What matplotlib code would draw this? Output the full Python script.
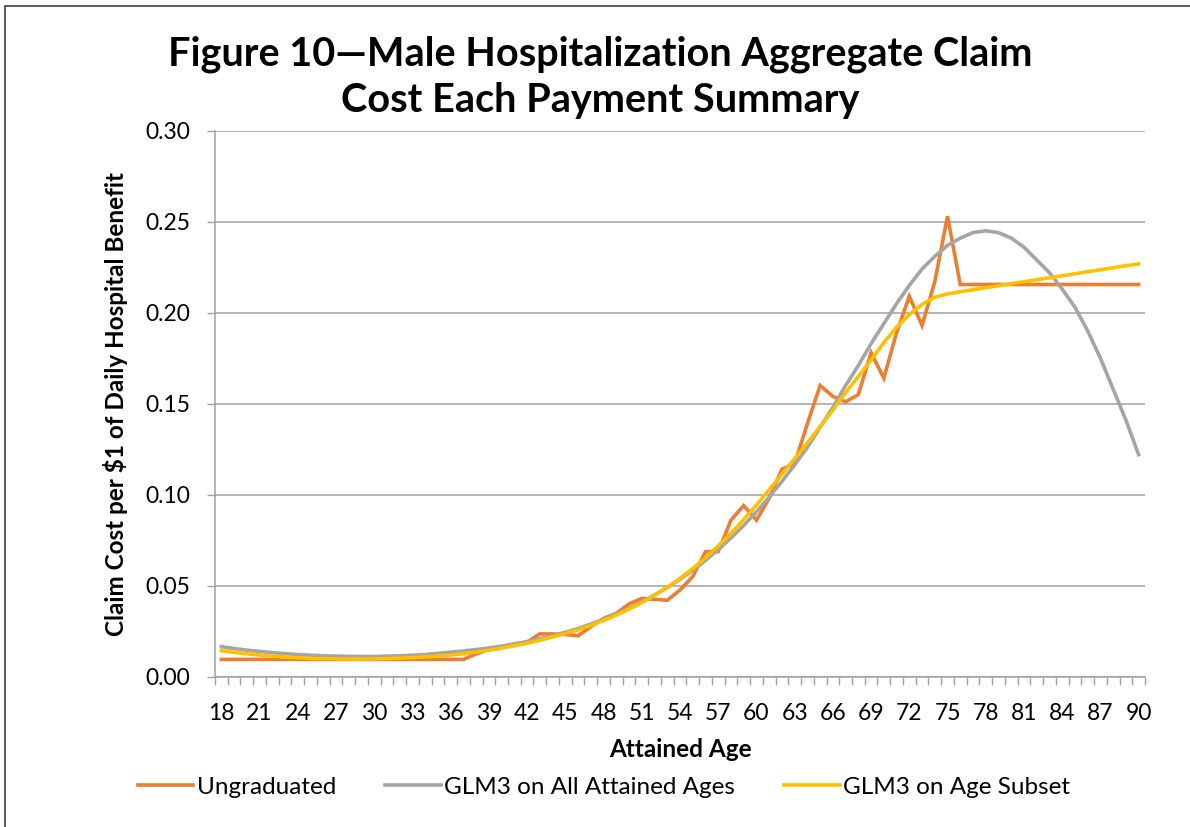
import matplotlib
matplotlib.use("Agg")
import matplotlib.pyplot as plt
from matplotlib.patches import Rectangle

plt.rcParams['font.family'] = ['Lato', 'DejaVu Sans']

ages = list(range(18, 91))

ungraduated = [0.0095, 0.0095, 0.0095, 0.0095, 0.0095, 0.0095, 0.0095, 0.0095, 0.0095, 0.0095,
               0.0095, 0.0095, 0.0095, 0.0095, 0.0095, 0.0095, 0.0095, 0.0095, 0.0095, 0.0095,
               0.0125, 0.0150, 0.0165, 0.0180, 0.0190, 0.0235, 0.0235, 0.0232, 0.0225, 0.0275,
               0.0320, 0.0348, 0.0400, 0.0430, 0.0425, 0.0420, 0.0476, 0.0550, 0.0687, 0.0687,
               0.0860, 0.0940, 0.0860, 0.0980, 0.1140, 0.1170, 0.1390, 0.1600, 0.1540, 0.1510,
               0.1550, 0.1780, 0.1640, 0.1890, 0.2090, 0.1930, 0.2170, 0.2530, 0.2155, 0.2155,
               0.2155, 0.2155, 0.2155, 0.2155, 0.2155, 0.2155, 0.2155, 0.2155, 0.2155, 0.2155,
               0.2155, 0.2155, 0.2155]

glm_all = [0.0165, 0.0155, 0.0146, 0.0139, 0.0132, 0.0127, 0.0122, 0.0118, 0.0115, 0.0113,
           0.0112, 0.0111, 0.0111, 0.0113, 0.0115, 0.0118, 0.0122, 0.0128, 0.0135, 0.0141,
           0.0149, 0.0158, 0.0168, 0.0180, 0.0193, 0.0208, 0.0225, 0.0244, 0.0265, 0.0289,
           0.0315, 0.0344, 0.0376, 0.0411, 0.0449, 0.0490, 0.0535, 0.0585, 0.0639, 0.0698,
           0.0762, 0.0831, 0.0906, 0.0987, 0.1073, 0.1164, 0.1260, 0.1370, 0.1480, 0.1600,
           0.1710, 0.1830, 0.1940, 0.2050, 0.2150, 0.2240, 0.2310, 0.2370, 0.2410, 0.2440,
           0.2450, 0.2440, 0.2410, 0.2360, 0.2290, 0.2220, 0.2130, 0.2030, 0.1900, 0.1750,
           0.1580, 0.1410, 0.1220]

glm_subset = [0.0143, 0.0134, 0.0126, 0.0119, 0.0113, 0.0108, 0.0104, 0.0101, 0.0099, 0.0098,
              0.0097, 0.0097, 0.0098, 0.0100, 0.0102, 0.0105, 0.0109, 0.0113, 0.0119, 0.0126,
              0.0135, 0.0145, 0.0157, 0.0170, 0.0184, 0.0200, 0.0218, 0.0237, 0.0258, 0.0282,
              0.0309, 0.0338, 0.0371, 0.0407, 0.0447, 0.0491, 0.0540, 0.0594, 0.0653, 0.0718,
              0.0788, 0.0863, 0.0943, 0.1027, 0.1112, 0.1198, 0.1285, 0.1375, 0.1465, 0.1560,
              0.1650, 0.1740, 0.1835, 0.1920, 0.1990, 0.2045, 0.2085, 0.2103, 0.2115, 0.2126,
              0.2137, 0.2148, 0.2159, 0.2170, 0.2181, 0.2192, 0.2203, 0.2214, 0.2225, 0.2236,
              0.2247, 0.2258, 0.2268]

y_ticks = [0.00, 0.05, 0.10, 0.15, 0.20, 0.25, 0.30]

orange = '#ED7D31'
grey = '#A5A5A5'
yellow = '#FFC000'
axis_grey = '#A0A0A0'

fig = plt.figure(figsize=(11.9, 8.27), dpi=100)
W, H = 1190, 827
ax = fig.add_axes([215 / W, 1 - 676.7 / H, (1145 - 215) / W, (676.7 - 130.7) / H])

# outer chart frame
fig.patches.append(Rectangle((5 / W, -0.05), 1.1, 1 - 6 / H + 0.05, transform=fig.transFigure,
                             fill=False, edgecolor='#404040', linewidth=1.2))

x = list(range(len(ages)))
ax.plot(x, ungraduated, color=orange, lw=2.6, label='Ungraduated', solid_joinstyle='miter')
ax.plot(x, glm_all, color=grey, lw=2.6, label='GLM3 on All Attained Ages')
ax.plot(x, glm_subset, color=yellow, lw=2.6, label='GLM3 on Age Subset')

ax.set_xlim(-0.5, len(ages) - 0.5)
ax.set_ylim(0, 0.30)
ax.set_yticks(y_ticks)
ax.set_yticklabels([f'{v:.2f}' for v in y_ticks], fontsize=16.5)
ax.yaxis.grid(True, color=axis_grey, lw=1.1)
ax.set_axisbelow(True)

label_idx = list(range(0, len(ages), 3))
ax.set_xticks(label_idx)
ax.set_xticklabels([str(ages[i]) for i in label_idx], fontsize=16.5)
ax.set_xticks([i - 0.5 for i in range(len(ages) + 1)], minor=True)
ax.tick_params(axis='x', which='major', length=0, pad=19)
ax.tick_params(axis='x', which='minor', length=6, color=axis_grey, width=1)
ax.tick_params(axis='y', length=6, color=axis_grey, width=1, pad=12)

for s in ['top', 'right']:
    ax.spines[s].set_visible(False)
for s in ['left', 'bottom']:
    ax.spines[s].set_color(axis_grey)
    ax.spines[s].set_linewidth(1.1)

ax.set_xlabel('Attained Age', fontsize=17.5, fontweight='bold', labelpad=10)
ax.set_ylabel('Claim Cost per $1 of Daily Hospital Benefit', fontsize=17.5, fontweight='bold', labelpad=12)

fig.text(600 / W, 1 - 77 / H, 'Figure 10\u2014Male Hospitalization Aggregate Claim\nCost Each Payment Summary',
         ha='center', va='center', fontsize=28.5, fontweight='bold', linespacing=1.3)

fig.legend(loc='center', bbox_to_anchor=(604 / W, 1 - 787 / H), ncol=3, frameon=False,
           fontsize=17.5, handlelength=2.3, handletextpad=0.15, columnspacing=2.0)

fig.savefig('out.png', dpi=100)
